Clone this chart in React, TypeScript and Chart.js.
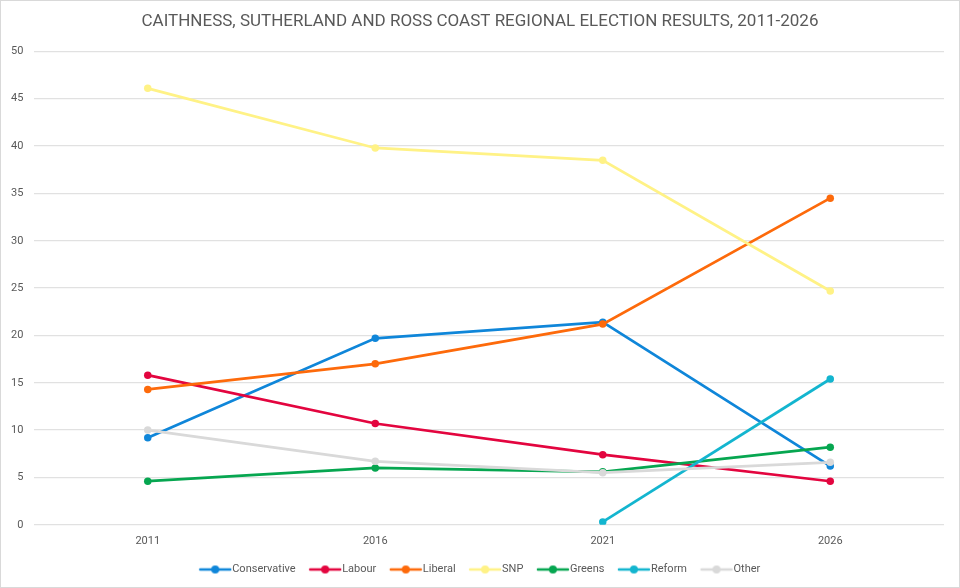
import { Chart, registerables } from "chart.js"
import { useEffect, useRef } from "react"

Chart.register(...registerables)

const FONT = '"Liberation Sans Narrow", "Arial Narrow", Roboto, sans-serif'

const YEARS = ["2011", "2016", "2021", "2026"]

const CONSERVATIVE = [9.2, 19.7, 21.4, 6.2]
const LABOUR = [15.8, 10.7, 7.4, 4.6]
const LIBERAL = [14.3, 17.0, 21.2, 34.5]
const SNP = [46.1, 39.8, 38.5, 24.7]
const GREENS = [4.6, 6.0, 5.6, 8.2]
const REFORM = [null, null, 0.3, 15.4]
const OTHER = [10.0, 6.7, 5.5, 6.6]

const SERIES: [string, (number | null)[], string][] = [
	["Conservative", CONSERVATIVE, "#0f86d9"],
	["Labour", LABOUR, "#e3053f"],
	["Liberal", LIBERAL, "#fd6a0b"],
	["SNP", SNP, "#fff286"],
	["Greens", GREENS, "#06a650"],
	["Reform", REFORM, "#13b5cf"],
	["Other", OTHER, "#d9d9d9"],
]

// legend marker: short line with a dot, drawn a bit to the right so it sits close to the text
function legendMarker(color: string) {
	const c = document.createElement("canvas")
	c.width = 40
	c.height = 10
	const ctx = c.getContext("2d")!
	ctx.strokeStyle = color
	ctx.lineWidth = 2.5
	ctx.lineCap = "round"
	ctx.beginPath()
	ctx.moveTo(7, 5)
	ctx.lineTo(37, 5)
	ctx.stroke()
	ctx.fillStyle = color
	ctx.beginPath()
	ctx.arc(22, 5, 4, 0, Math.PI * 2)
	ctx.fill()
	return c
}

export default function App() {
	const canvasRef = useRef<HTMLCanvasElement>(null)

	useEffect(() => {
		if (!canvasRef.current) return
		const markers = SERIES.map(([, , color]) => legendMarker(color))

		const chart = new Chart(canvasRef.current, {
			type: "line",
			data: {
				labels: YEARS,
				datasets: SERIES.map(([label, data, color], i) => ({
					label,
					data,
					borderColor: color,
					backgroundColor: color,
					borderWidth: 2.75,
					pointRadius: 3.75,
					pointHoverRadius: 3.75,
					pointBorderWidth: 0,
					tension: 0,
					order: SERIES.length - i,
				})),
			},
			options: {
				animation: false,
				responsive: false,
				layout: { padding: { left: 15, right: 15, top: 0, bottom: 2 } },
				plugins: {
					tooltip: { enabled: false },
					title: {
						display: true,
						text: "CAITHNESS, SUTHERLAND AND ROSS COAST REGIONAL ELECTION RESULTS, 2011-2026",
						color: "#595959",
						font: { family: FONT, size: 17, weight: "normal" },
						padding: { top: 11, bottom: 19 },
					},
					legend: {
						position: "bottom",
						labels: {
							usePointStyle: true,
							pointStyleWidth: 27,
							boxHeight: 10,
							padding: 14,
							color: "#595959",
							font: { family: FONT, size: 11 },
							sort: (a, b) => (a.datasetIndex ?? 0) - (b.datasetIndex ?? 0),
							generateLabels: (ch) =>
								ch.data.datasets.map((ds, i) => ({
									text: ds.label as string,
									datasetIndex: i,
									pointStyle: markers[i],
									fillStyle: SERIES[i][2],
									strokeStyle: SERIES[i][2],
									lineWidth: 0,
									fontColor: "#595959",
									hidden: false,
								})),
						},
					},
				},
				scales: {
					x: {
						offset: true,
						grid: { display: false },
						border: { display: false },
						ticks: { color: "#595959", font: { family: FONT, size: 11 }, padding: 2 },
					},
					y: {
						min: 0,
						max: 50,
						afterFit: (scale) => {
							scale.width = 18
						},
						// mirrored so the labels are not clipped to the narrow axis box
						ticks: {
							stepSize: 5,
							mirror: true,
							crossAlign: "far",
							padding: -23,
							color: "#595959",
							font: { family: FONT, size: 11 },
						},
						grid: { color: "#e1e1e1", lineWidth: 1.25, drawTicks: false },
						border: { display: false },
					},
				},
			},
		})

		return () => {
			chart.destroy()
		}
	}, [])

	return (
		<div
			style={{
				position: "fixed",
				left: 0,
				top: 0,
				width: 960,
				height: 588,
				background: "#fff",
				border: "1px solid #d9d9d9",
				boxSizing: "border-box",
			}}
		>
			<canvas
				ref={canvasRef}
				width={958}
				height={586}
				style={{ display: "block", width: 958, height: 586 }}
			/>
		</div>
	)
}
